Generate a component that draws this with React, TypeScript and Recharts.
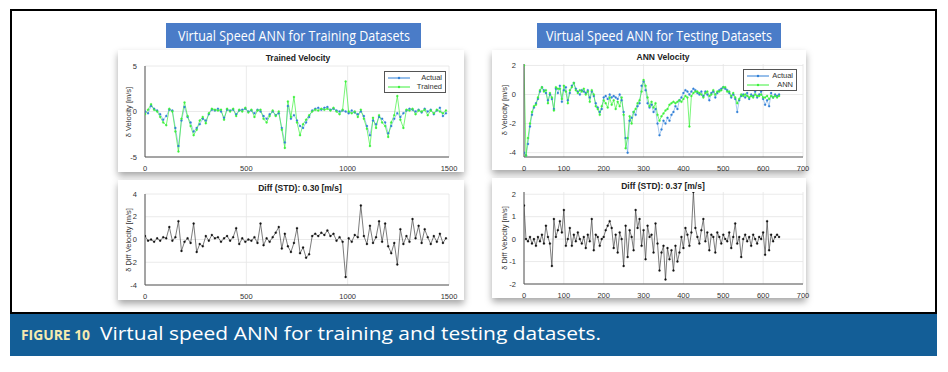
import React from 'react';
import { LineChart, Line, XAxis, YAxis, CartesianGrid, Legend } from 'recharts';

const TRAIN_STEP = 15;
const TEST_STEP = 5;

// training set: actual vs trained velocity
const trainActual = [
  0.0, -0.2, 0.6, 0.3, 0.1, -0.3, -0.9, -0.5, 0.2, 0.1,
  -1.8, -3.8, -1.0, 0.5, -0.6, -1.2, -2.2, -1.8, -1.4, -0.8,
  -1.0, -0.3, 0.2, 0.1, 0.3, 0.0, -0.7, 0.2, 0.1, 0.2,
  -0.3, 0.1, 0.2, 0.3, 0.0, 0.1, -0.2, 0.2, 0.0, -0.5,
  -0.8, -0.3, 0.0, -0.4, -0.2, -1.8, -3.4, 0.6, -0.8, -0.4,
  -1.0, -1.6, -1.8, -1.2, -0.6, 0.1, 0.3, 0.4, 0.2, 0.4,
  0.5, 0.2, 0.3, 0.1, 0.0, 0.1, 0.0, -0.2, 0.1, -0.1,
  -0.3, 0.0, -0.5, -1.6, -2.6, -1.0, -1.4, -0.6, -0.8, -1.2,
  -2.4, -1.6, -0.8, -0.2, -0.6, -0.2, 0.1, 0.3, 0.2, 0.0,
  0.2, -0.1, 0.3, 0.0, 0.2, -0.3, 0.1, 0.4, -0.5, -0.2,
];
const trainTrained = [
  -0.3, 0.2, 0.8, 0.2, 0.0, -0.6, -1.2, -1.5, 0.3, 0.0,
  -2.2, -4.4, -0.8, 1.0, -0.5, -1.6, -2.6, -2.0, -1.0, -0.6,
  -1.3, -0.2, 0.3, 0.2, 0.1, 0.2, -0.9, 0.3, 0.0, 0.3,
  -0.5, 0.2, 0.0, 0.4, -0.1, 0.2, -0.6, 0.1, 0.2, -0.8,
  -1.2, -0.5, 0.1, -0.5, 0.0, -2.0, -4.0, 1.1, -0.6, 1.6,
  -1.2, -2.6, -1.4, -0.9, -0.4, 0.0, 0.2, 0.1, 0.3, 0.2,
  0.3, 0.1, 0.4, 0.0, -0.3, 0.2, 3.3, 0.0, -0.2, 0.0,
  -0.6, 0.2, -0.8, -1.9, -3.8, -0.7, -1.8, -0.4, -1.2, -1.6,
  -2.8, -1.2, -0.4, 1.7, -0.9, -1.8, 0.2, 0.1, 0.3, -0.3,
  0.1, 0.0, 0.2, -0.4, 0.1, -0.2, 0.2, 0.0, -0.2, 0.1,
];
const trainDiff = [
  0.3, -0.1, 0.0, -0.2, 0.1, -0.1, 0.2, 0.1, 1.1, -0.1,
  0.2, 1.6, -1.0, -0.2, 0.1, -0.3, 1.4, -1.1, -0.4, -0.6,
  0.3, -0.1, 0.4, 0.1, 0.2, -0.2, 0.1, 0.3, -0.1, 0.2,
  1.0, -0.4, 0.1, -0.2, 0.0, -0.1, 0.2, -0.3, 1.4, -0.5,
  0.1, -0.2, 0.2, 0.6, 1.1, -0.8, 0.5, -0.6, -1.1, -0.3,
  1.0, -1.2, -0.7, -1.6, -1.3, 0.3, 0.5, 0.3, 0.6, 0.4,
  0.8, 0.3, 0.5, -0.1, 0.2, -0.2, -3.3, 0.1, -0.2, 0.4,
  0.2, 3.0, 0.3, -0.4, 1.2, -0.3, 0.2, 1.6, -0.2, 1.4,
  -0.6, -1.2, -0.3, -2.2, 0.9, -0.4, 0.3, -0.2, 1.8, 0.1,
  1.2, -0.3, 0.9, 0.2, -0.4, 0.3, -0.2, 0.5, -0.3, 0.1,
];

// testing set: actual vs ANN velocity
const testActual = [
  -4.0, -4.2, -3.4, -2.2, -1.4, -0.9, -0.6, -0.3, 0.2, 0.5,
  0.3, 0.1, -0.4, 0.0, -0.3, -1.0, 0.4, 0.1, 0.6, -0.5,
  0.3, 0.5, -0.4, 0.1, 0.6, 0.8, 0.4, 0.2, 0.0, 0.3,
  0.2, 0.1, 0.3, -0.2, 0.2, -0.1, -0.6, -0.9, -1.2, -1.0,
  -0.2, -0.1, -0.3, 0.0, -0.2, -0.1, -0.2, -0.3, 0.0, -0.4,
  -1.2, -3.0, -4.0, -1.8, -1.6, -1.2, -1.4, -0.8, -0.6, 0.6,
  0.9, 0.3, -0.6, -0.9, -0.7, -1.2, -1.0, -2.0, -2.8, -2.4,
  -1.8, -2.0, -1.6, -1.8, -1.4, -1.2, -0.8, -1.0, -0.4, -0.2,
  0.1, 0.3, 0.2, 0.0, 0.2, 0.4, 0.3, 0.1, 0.0, 0.2,
  -0.1, 0.2, 0.0, -0.4, 0.1, 0.2, -0.2, 0.1, 0.3, 0.4,
  0.5, 0.4, 0.3, 0.1, -0.2, 0.0, -0.3, -1.2, -0.4, -0.1,
  0.0, -0.2, 0.1, -0.3, 0.0, -0.1, 0.2, -0.2, 0.0, 0.2,
  -0.3, -0.7, -0.4, -0.8, 0.1, -0.2, 0.0, -0.1, 0.0,
];
const testAnn = [
  2.0, -4.2, -3.0, -2.0, -1.2, -0.8, -0.7, -0.2, 0.3, 0.5,
  0.2, 0.3, -0.6, 0.1, -0.2, -1.1, 0.5, 0.4, 0.4, -0.3,
  0.6, 0.2, -0.6, 0.3, 0.5, 0.8, 0.3, 0.1, 0.3, 0.2,
  0.4, 0.0, 0.2, -0.5, 0.3, 0.0, -0.8, -1.0, -1.4, -0.8,
  -0.4, -0.6, -0.9, -0.2, -0.7, -0.4, -1.0, -0.5, -0.8, -0.2,
  -1.4, -3.7, -3.0, -1.5, -2.0, -1.2, -1.0, -0.6, -0.4, 0.2,
  1.0, 0.6, -0.2, -0.8, -0.5, -0.9, -0.6, -1.4, -1.8, -1.5,
  -1.3, -1.1, -1.0, -0.7, -0.6, -0.5, -0.6, -0.5, -0.4, -0.5,
  -0.3, -0.1, -0.2, -2.2, -0.1, 0.1, 0.2, 0.2, 0.1, 0.0,
  -0.2, 0.1, 0.2, -0.1, 0.0, 0.3, 0.0, 0.2, 0.2, 0.3,
  0.5, 0.5, 0.2, 0.2, -0.1, 0.1, -0.2, -0.6, -0.3, 0.0,
  -0.1, 0.0, -0.1, -0.2, -0.1, -0.2, 0.0, -0.1, -0.1, 0.0,
  -0.2, -0.2, -0.1, -0.3, -0.1, -0.2, -0.1, -0.2, -0.1,
];
const testDiff = [
  1.5, 0.0, -0.1, 0.1, -0.2, 0.0, -0.3, 0.1, -0.1, 0.2,
  -0.2, 0.6, 0.1, -0.2, -1.2, 0.9, 0.1, 0.4, 0.8, 0.3,
  1.3, -0.3, 0.0, 0.5, -0.3, 0.2, -0.1, 0.3, 0.0, -0.2,
  0.1, -0.4, 0.2, -0.1, 0.9, -0.5, 0.2, 0.1, -0.3, 0.0,
  0.1, 0.4, 0.6, 0.8, 0.5, -0.4, 0.2, -0.6, 0.3, 0.0,
  -1.2, 0.6, -0.8, 0.4, 0.1, -0.5, 1.3, 0.5, 0.9, -0.3,
  0.4, -0.9, 0.6, 0.1, 0.2, -0.6, 0.7, -0.2, -1.4, -0.6,
  -0.3, -1.8, -0.4, -0.9, -0.5, -1.4, -0.3, -1.0, -0.6, 0.1,
  -0.4, 0.5, 0.2, -0.3, 0.3, 2.1, 0.5, 0.1, -0.2, 0.4,
  0.9, -0.1, 0.3, -0.5, 0.2, 0.1, -0.6, 0.3, 0.1, -0.2,
  0.2, 0.0, -0.1, 0.3, -0.4, 0.1, 0.7, -0.2, 0.1, -0.8,
  0.0, 0.2, -0.1, 0.1, -0.3, 0.2, 0.0, -0.2, 0.1, 0.0,
  0.3, -0.7, 0.8, -0.5, 0.2, -0.1, 0.1, 0.2, 0.1,
];

const trainXTicks = [0, 500, 1000, 1500];
const trainVelTicks = [-5, 0, 5];
const trainDiffTicks = [-4, -2, 0, 2, 4];
const testXTicks = [0, 100, 200, 300, 400, 500, 600, 700];
const testVelTicks = [-4, -2, 0, 2];
const testDiffTicks = [-2, -1, 0, 1, 2];

const trainRows = trainActual.map((v, i) => ({ t: i * TRAIN_STEP, actual: v, trained: trainTrained[i], diff: trainDiff[i] }));
const testRows = testActual.map((v, i) => ({ t: i * TEST_STEP, actual: v, ann: testAnn[i], diff: testDiff[i] }));

const BLUE = '#2f7fd6';
const GREEN = '#3df03d';
const MFONT = '"Liberation Sans", Arial, sans-serif';
const tickStyle = { fontSize: 7.5, fill: '#333', fontFamily: MFONT };

function LegendBox({ items }: { items: { label: string; color: string }[] }) {
  return (
    <div style={{ background: '#fff', border: '1px solid #555', padding: '1px 3px', fontFamily: MFONT, fontSize: 7.5, color: '#333' }}>
      {items.map((it) => (
        <div key={it.label} style={{ display: 'flex', alignItems: 'center', height: 9 }}>
          <svg width={22} height={6}>
            <line x1={0} y1={3} x2={22} y2={3} stroke={it.color} strokeWidth={1} />
            <circle cx={11} cy={3} r={1.2} fill={it.color} />
          </svg>
          <span style={{ marginLeft: 'auto' }}>{it.label}</span>
        </div>
      ))}
    </div>
  );
}

type Series = { key: string; color: string; line: string; r: number };

function Panel(props: {
  x: number; y: number; w: number; h: number;
  data: any[]; xMax: number; xTicks: number[];
  yDomain: [number, number]; yTicks: number[];
  margin: { top: number; right: number; bottom: number; left: number };
  series: Series[];
  legend?: { items: { label: string; color: string }[]; left: number; top: number; width: number };
}) {
  const { x, y, w, h, data, xMax, xTicks, yDomain, yTicks, margin, series, legend } = props;
  return (
    <div style={{ position: 'absolute', left: x, top: y }}>
      <LineChart width={w} height={h} data={data} margin={margin}>
        <CartesianGrid stroke="#e4e4e4" strokeWidth={0.8} horizontalValues={yTicks} verticalValues={xTicks} />
        <XAxis dataKey="t" type="number" domain={[0, xMax]} ticks={xTicks} tick={tickStyle} tickLine={false}
          axisLine={{ stroke: '#555' }} height={14} tickMargin={3} interval={0} allowDataOverflow />
        <XAxis xAxisId="top" orientation="top" dataKey="t" type="number" domain={[0, xMax]} tick={false}
          tickLine={false} axisLine={{ stroke: '#555' }} height={0} />
        <YAxis type="number" domain={yDomain} ticks={yTicks} tick={tickStyle} tickLine={false}
          axisLine={{ stroke: '#555' }} width={16} tickMargin={2} interval={0} allowDataOverflow />
        <YAxis yAxisId="right" orientation="right" type="number" domain={yDomain} tick={false}
          tickLine={false} axisLine={{ stroke: '#555' }} width={0} />
        {series.map((s) => (
          <Line key={s.key} dataKey={s.key} type="linear" stroke={s.line} strokeWidth={0.7}
            dot={{ r: s.r, fill: s.color, stroke: s.color, strokeWidth: 0.3 }} isAnimationActive={false} />
        ))}
        {legend && (
          <Legend layout="vertical" align="center" verticalAlign="middle"
            wrapperStyle={{ left: legend.left, top: legend.top, width: legend.width, bottom: 'auto', right: 'auto' }}
            content={() => <LegendBox items={legend.items} />} />
        )}
      </LineChart>
    </div>
  );
}

function Title({ cx, cy, text }: { cx: number; cy: number; text: string }) {
  return (
    <div style={{ position: 'absolute', left: cx - 100, top: cy - 6, width: 200, textAlign: 'center', fontFamily: MFONT,
      fontSize: 8.5, fontWeight: 'bold', color: '#222', lineHeight: '12px' }}>{text}</div>
  );
}

function YLabel({ cx, cy, text }: { cx: number; cy: number; text: string }) {
  return (
    <div style={{ position: 'absolute', left: cx - 60, top: cy - 5, width: 120, textAlign: 'center', fontFamily: MFONT,
      fontSize: 7.5, color: '#333', lineHeight: '10px', transform: 'rotate(-90deg)' }}>{text}</div>
  );
}

function Sheet({ x, y, w, h }: { x: number; y: number; w: number; h: number }) {
  return <div style={{ position: 'absolute', left: x, top: y, width: w, height: h, background: '#fff',
    boxShadow: '0 4px 7px rgba(0,0,0,0.35)' }} />;
}

export default function App() {
  const chrome = '"Open Sans", "Noto Sans", sans-serif';
  return (
    <div style={{ position: 'absolute', left: 0, top: 0, width: 948, height: 372, background: '#fff', overflow: 'hidden' }}>
      <div style={{ position: 'absolute', left: 10, top: 9, width: 927, height: 305, border: '2px solid #000', boxSizing: 'border-box' }} />

      <Sheet x={118} y={50} w={346} h={122} />
      <Sheet x={118} y={180} w={346} h={120} />
      <Sheet x={492} y={50} w={314} h={120} />
      <Sheet x={492} y={178} w={314} h={120} />

      <svg style={{ position: 'absolute', left: 0, top: 0 }} width={948} height={60}>
        <rect x={166} y={23} width={255} height={25} fill="#4a7cc8" />
        <text x={178} y={40.5} textLength={232} lengthAdjust="spacingAndGlyphs" fontFamily={chrome} fontSize={14} fill="#fff">
          Virtual Speed ANN for Training Datasets
        </text>
        <rect x={537} y={23} width={244} height={25} fill="#4a7cc8" />
        <text x={546} y={40.5} textLength={226} lengthAdjust="spacingAndGlyphs" fontFamily={chrome} fontSize={14} fill="#fff">
          Virtual Speed ANN for Testing Datasets
        </text>
      </svg>

      <Panel x={100} y={48} w={362} h={130} data={trainRows} xMax={1500} xTicks={trainXTicks}
        yDomain={[-5, 5]} yTicks={trainVelTicks} margin={{ top: 18, right: 13, bottom: 7, left: 29 }}
        series={[{ key: 'actual', color: BLUE, line: '#7fb2ea', r: 1.0 }, { key: 'trained', color: GREEN, line: GREEN, r: 1.0 }]}
        legend={{ items: [{ label: 'Actual', color: BLUE }, { label: 'Trained', color: GREEN }], left: 284, top: 23, width: 62 }} />
      <Panel x={100} y={178} w={362} h={130} data={trainRows} xMax={1500} xTicks={trainXTicks}
        yDomain={[-4, 4]} yTicks={trainDiffTicks} margin={{ top: 16, right: 13, bottom: 9, left: 29 }}
        series={[{ key: 'diff', color: '#111', line: '#444', r: 1.0 }]} />
      <Panel x={480} y={48} w={335} h={130} data={testRows} xMax={700} xTicks={testXTicks}
        yDomain={[-4.3, 2.1]} yTicks={testVelTicks} margin={{ top: 16, right: 12, bottom: 7, left: 28 }}
        series={[{ key: 'actual', color: BLUE, line: '#7fb2ea', r: 1.0 }, { key: 'ann', color: GREEN, line: GREEN, r: 1.0 }]}
        legend={{ items: [{ label: 'Actual', color: BLUE }, { label: 'ANN', color: GREEN }], left: 263, top: 21, width: 54 }} />
      <Panel x={480} y={176} w={335} h={130} data={testRows} xMax={700} xTicks={testXTicks}
        yDomain={[-2, 2.1]} yTicks={testDiffTicks} margin={{ top: 16, right: 12, bottom: 8, left: 28 }}
        series={[{ key: 'diff', color: '#111', line: '#444', r: 1.0 }]} />

      <Title cx={298} cy={58} text="Trained Velocity" />
      <Title cx={663} cy={57} text="ANN Velocity" />
      <Title cx={300} cy={188} text="Diff (STD): 0.30 [m/s]" />
      <Title cx={663} cy={186} text="Diff (STD): 0.37 [m/s]" />
      <YLabel cx={129} cy={112} text="δ Velocity [m/s]" />
      <YLabel cx={129} cy={240} text="δ Diff Velocity [m/s]" />
      <YLabel cx={505} cy={110} text="δ Velocity [m/s]" />
      <YLabel cx={505} cy={238} text="δ Diff Velocity [m/s]" />

      <div style={{ position: 'absolute', left: 10, top: 314, width: 927, height: 42, background: '#135e97' }} />
      <svg style={{ position: 'absolute', left: 0, top: 314 }} width={948} height={42}>
        <text x={21} y={25.5} textLength={69} lengthAdjust="spacingAndGlyphs" fontFamily={chrome} fontWeight="bold" fontSize={15} fill="#f6eab0">
          FIGURE 10
        </text>
        <text x={100} y={25.5} textLength={501} lengthAdjust="spacingAndGlyphs" fontFamily={chrome} fontSize={18} fill="#fff">
          Virtual speed ANN for training and testing datasets.
        </text>
      </svg>
    </div>
  );
}
